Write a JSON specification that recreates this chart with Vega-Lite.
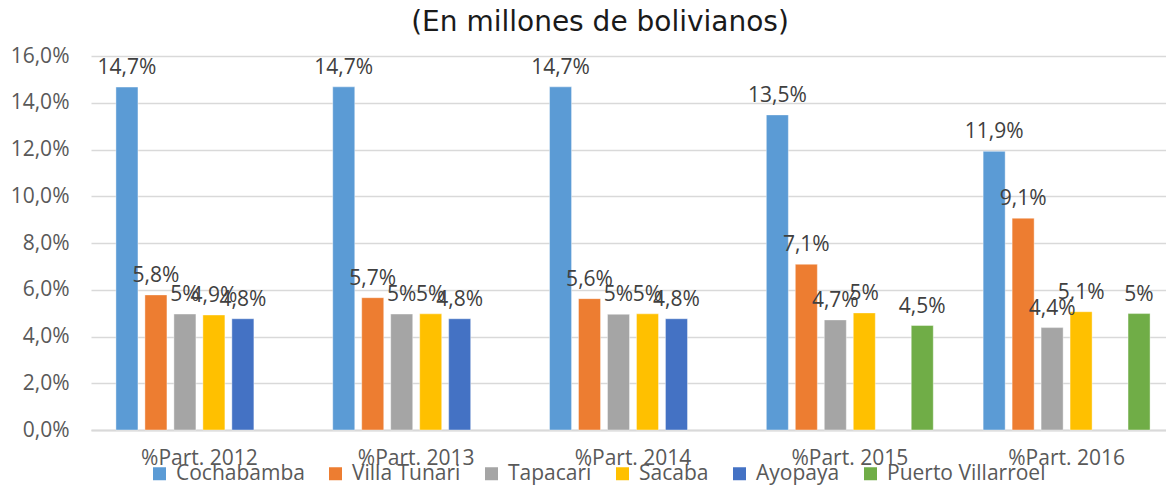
{
  "$schema": "https://vega.github.io/schema/vega-lite/v6.json",
  "autosize": {"type": "none"},
  "width": 1084,
  "height": 374,
  "padding": {"left": 91, "top": 56, "right": -9, "bottom": 55},
  "background": "white",
  "title": {
    "text": "(En millones de bolivianos)",
    "font": "DejaVu Sans",
    "fontSize": 28,
    "fontWeight": "normal",
    "color": "#1a1a1a",
    "frame": "group",
    "anchor": "middle",
    "dx": -33,
    "offset": 8
  },
  "data": {
    "values": [
      {"periodo": "%Part. 2012", "municipio": "Cochabamba", "valor": 0.1467},
      {"periodo": "%Part. 2012", "municipio": "Villa Tunari", "valor": 0.0578},
      {"periodo": "%Part. 2012", "municipio": "Tapacari", "valor": 0.0496},
      {"periodo": "%Part. 2012", "municipio": "Sacaba", "valor": 0.0492},
      {"periodo": "%Part. 2012", "municipio": "Ayopaya", "valor": 0.0476},
      {"periodo": "%Part. 2013", "municipio": "Cochabamba", "valor": 0.1468},
      {"periodo": "%Part. 2013", "municipio": "Villa Tunari", "valor": 0.0566},
      {"periodo": "%Part. 2013", "municipio": "Tapacari", "valor": 0.0496},
      {"periodo": "%Part. 2013", "municipio": "Sacaba", "valor": 0.0497},
      {"periodo": "%Part. 2013", "municipio": "Ayopaya", "valor": 0.0476},
      {"periodo": "%Part. 2014", "municipio": "Cochabamba", "valor": 0.1468},
      {"periodo": "%Part. 2014", "municipio": "Villa Tunari", "valor": 0.0562},
      {"periodo": "%Part. 2014", "municipio": "Tapacari", "valor": 0.0495},
      {"periodo": "%Part. 2014", "municipio": "Sacaba", "valor": 0.0497},
      {"periodo": "%Part. 2014", "municipio": "Ayopaya", "valor": 0.0476},
      {"periodo": "%Part. 2015", "municipio": "Cochabamba", "valor": 0.1348},
      {"periodo": "%Part. 2015", "municipio": "Villa Tunari", "valor": 0.0709},
      {"periodo": "%Part. 2015", "municipio": "Tapacari", "valor": 0.0471},
      {"periodo": "%Part. 2015", "municipio": "Sacaba", "valor": 0.0501},
      {"periodo": "%Part. 2015", "municipio": "Puerto Villarroel", "valor": 0.0447},
      {"periodo": "%Part. 2016", "municipio": "Cochabamba", "valor": 0.1192},
      {"periodo": "%Part. 2016", "municipio": "Villa Tunari", "valor": 0.0906},
      {"periodo": "%Part. 2016", "municipio": "Tapacari", "valor": 0.0438},
      {"periodo": "%Part. 2016", "municipio": "Sacaba", "valor": 0.0506},
      {"periodo": "%Part. 2016", "municipio": "Puerto Villarroel", "valor": 0.0498}
    ]
  },
  "encoding": {
    "x": {
      "field": "periodo",
      "type": "nominal",
      "sort": null,
      "scale": {"paddingInner": 0.23, "paddingOuter": 0.115},
      "axis": {
        "title": null,
        "labelAngle": 0,
        "labelFont": "Open Sans",
        "labelFontSize": 21,
        "labelColor": "#595959",
        "labelPadding": 17,
        "ticks": false,
        "domainColor": "#d9d9d9",
        "domainWidth": 2
      }
    },
    "xOffset": {
      "field": "municipio",
      "type": "nominal",
      "sort": ["Cochabamba", "Villa Tunari", "Tapacari", "Sacaba", "Ayopaya", "Puerto Villarroel"],
      "scale": {"paddingInner": 0.24, "paddingOuter": 0}
    },
    "y": {
      "field": "valor",
      "type": "quantitative",
      "scale": {"domain": [0, 0.16]},
      "axis": {
        "title": null,
        "format": ".1%",
        "values": [0, 0.02, 0.04, 0.06, 0.08, 0.1, 0.12, 0.14, 0.16],
        "labelFont": "Open Sans",
        "labelFontSize": 21,
        "labelColor": "#595959",
        "labelPadding": 22,
        "ticks": false,
        "domain": false,
        "gridColor": "#d9d9d9",
        "gridWidth": 1.5
      }
    }
  },
  "layer": [
    {
      "mark": {"type": "bar", "stroke": "white", "strokeOpacity": 0.4, "strokeWidth": 1},
      "encoding": {
        "color": {
          "field": "municipio",
          "type": "nominal",
          "sort": ["Cochabamba", "Villa Tunari", "Tapacari", "Sacaba", "Ayopaya", "Puerto Villarroel"],
          "scale": {
            "domain": ["Cochabamba", "Villa Tunari", "Tapacari", "Sacaba", "Ayopaya", "Puerto Villarroel"],
            "range": ["#5B9BD5", "#ED7D31", "#A5A5A5", "#FFC000", "#4472C4", "#70AD47"]
          },
          "legend": {
            "title": null,
            "orient": "none",
            "direction": "horizontal",
            "columns": 6,
            "legendX": 58,
            "legendY": 407,
            "symbolType": "square",
            "symbolSize": 169,
            "symbolStrokeWidth": 0,
            "labelFont": "Open Sans",
            "labelFontSize": 21,
            "labelColor": "#595959",
            "labelOffset": 6,
            "columnPadding": 20
          }
        }
      }
    },
    {
      "mark": {"type": "text", "baseline": "alphabetic", "dy": -13, "font": "Open Sans", "fontSize": 21, "color": "#404040"},
      "encoding": {
        "text": {"field": "valor", "type": "quantitative", "format": ".1~%"}
      }
    }
  ],
  "config": {
    "locale": {"number": {"decimal": ",", "thousands": ".", "grouping": [3], "currency": ["", " Bs"]}},
    "view": {"stroke": null}
  }
}
